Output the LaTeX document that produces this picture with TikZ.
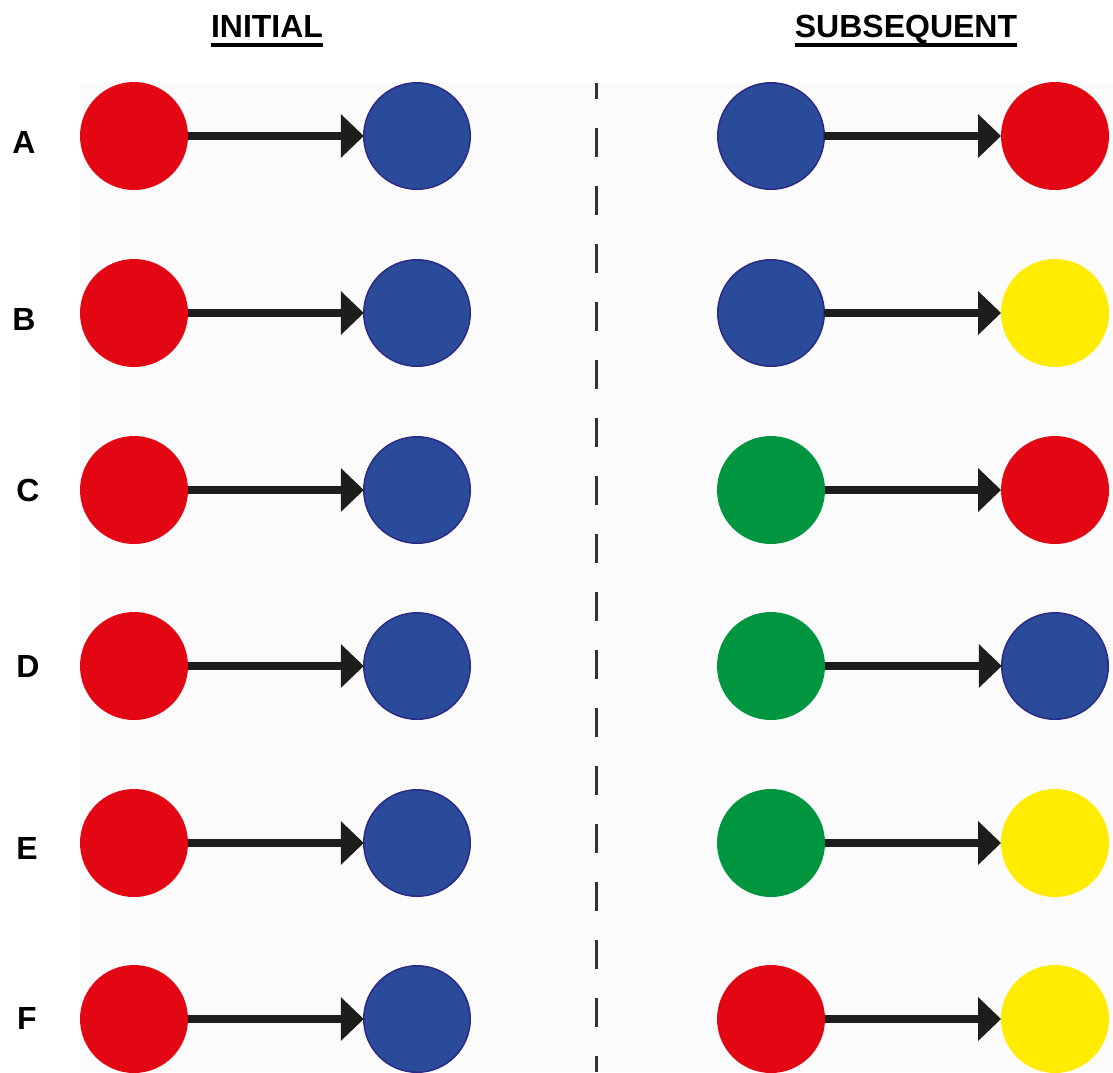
\documentclass[tikz,border=0pt]{standalone}
\usepackage{fontspec}
\setmainfont{Liberation Sans}
\usetikzlibrary{arrows.meta}

\definecolor{cred}{HTML}{E30613}
\definecolor{cblue}{HTML}{2A4A9A}
\definecolor{cblueline}{HTML}{2B2A84}
\definecolor{cgreen}{HTML}{00963F}
\definecolor{cyellow}{HTML}{FFEC00}
\definecolor{carrow}{HTML}{1D1D1B}
\definecolor{cdash}{HTML}{333333}
\definecolor{cpanel}{HTML}{FBFBFB}

\tikzset{
  dot/.style={circle, minimum size=108pt, inner sep=0pt, outer sep=0pt},
  redd/.style={dot, fill=cred},
  blued/.style={dot, fill=cblue, draw=cblueline, line width=1.5pt, minimum size=106.5pt},
  greend/.style={dot, fill=cgreen},
  yellowd/.style={dot, fill=cyellow},
  link/.style={draw=carrow, line width=7.5pt,
    -{Triangle[length=23pt, width=44pt, line width=0pt, fill=carrow]}},
  rowlabel/.style={font=\fontsize{32}{38}\selectfont\bfseries, inner sep=0pt},
  heading/.style={font=\fontsize{32}{38}\selectfont\bfseries, inner sep=0pt, anchor=base},
}

\begin{document}
\begin{tikzpicture}[x=1pt, y=-1pt]
  \useasboundingbox (0,0) rectangle (1113,1072);
  \fill[white] (0,0) rectangle (1113,1072);
  \fill[cpanel] (80,82) rectangle (1113,1072);

  % column headings
  \node[heading] (hi) at (267,37.5) {INITIAL};
  \node[heading] (hs) at (906,37.5) {SUBSEQUENT};
  \draw[line width=4pt] ([yshift=-7.5pt]hi.base west) -- ([yshift=-7.5pt]hi.base east);
  \draw[line width=4pt] ([yshift=-7.5pt]hs.base west) -- ([yshift=-7.5pt]hs.base east);

  % divider
  \coordinate (dtop) at (596,83);
  \coordinate (dbot) at (596,1072);
  \draw[cdash, line width=3pt, dash pattern=on 29pt off 29pt, dash phase=13pt] (dtop) -- (dbot);

  % rows: label, initial pair, subsequent pair
  \foreach \lab/\ly/\lx/\y/\c/\d in {
      A/142/24/136/blued/redd,
      B/319/24/313/blued/yellowd,
      C/490/28/490/greend/redd,
      D/666/28/666/greend/blued,
      E/848/27/843/greend/yellowd,
      F/1018/27/1019/redd/yellowd} {
    \node[rowlabel] (l\lab) at (\lx,\ly) {\lab};
    \node[redd] (a\lab) at (134,\y) {};
    \node[blued] (b\lab) at (417,\y) {};
    \node[\c] (c\lab) at (771,\y) {};
    \node[\d] (d\lab) at (1055,\y) {};
    \draw[link] (a\lab.east) -- (b\lab.west);
    \draw[link] (c\lab.east) -- (d\lab.west);
  }
\end{tikzpicture}
\end{document}
